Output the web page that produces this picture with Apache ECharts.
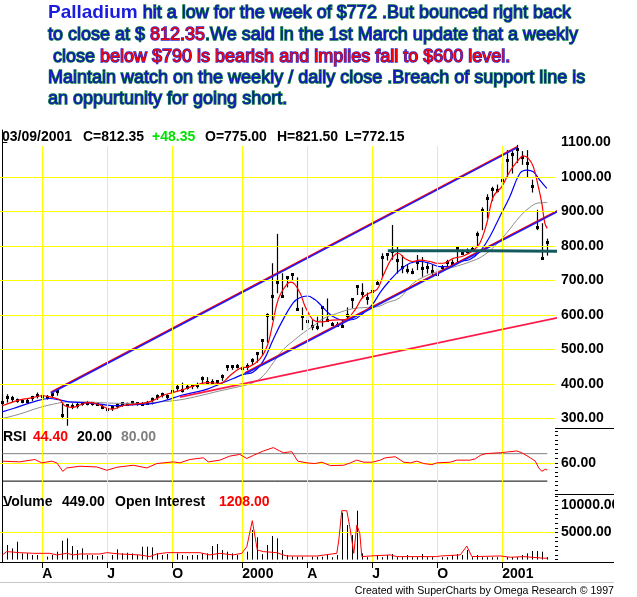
<!DOCTYPE html>
<html>
<head>
<meta charset="utf-8">
<title>Palladium weekly</title>
<script src="https://cdn.jsdelivr.net/npm/echarts@6.0.0/dist/echarts.min.js"></script>
<style>
  html, body { margin: 0; padding: 0; background: #fff; }
  #chart { width: 637px; height: 597px; }
</style>
</head>
<body>
<div id="chart"></div>
<script>
// weekly bars, week 0 = 02/05/1999 ... week 109 = 03/09/2001
var high = [370.5,370.5,365.7,358,356,358,365.7,375.4,370.5,368,375,387,346,341,344,346,348,351,348,346,
  341,337,339,344,348,346,351,348,348,351,361,370,375,370,409,399,404,397,400,404,
  422,420,414,411,428,455,455,458,452,460,475,493,530,605,750,835,721,711,721,709,
  622,600,585,595,622,648,580,580,585,622,648,687,692,665,687,702,779,779,861,798,
  773,745,735,774,768,750,745,735,745,760,760,798,790,793,798,842,912,950,972,978,
  1040,1078,1075,1093,1075,1078,992,905,866,821.5];
var low = [332,346,348,346,344,344,351,358,354,355,361,366,298,279,327,329,337,338,337,337,
  327,317,322,329,334,337,338,337,337,341,341,354,361,356,370,380,375,384,385,387,
  400,400,400,396,409,438,441,445,438,440,455,462,485,520,585,663,653,680,700,618,
  556,561,556,556,566,585,570,566,566,585,619,658,648,630,648,690,711,758,760,720,
  721,720,718,730,711,720,711,711,730,740,740,750,775,778,785,798,846,880,930,955,
  975,1000,1010,1040,1035,1000,955,846,760,772.15];
var close = [348,361,358,353,351,352,361,367,366,363,370,380,311,338,336,339,344,346,344,341,
  334,327,334,338,344,341,348,344,341,346,356,366,370,366,380,390,382,390,397,397,
  418,407,405,409,424,453,451,453,445,452,470,490,527,600,655,695,655,709,719,618,
  598,582,568,564,622,585,573,570,568,600,646,685,665,648,670,692,767,776,785,760,
  738,730,725,755,735,740,728,720,738,755,752,793,780,785,790,836,905,940,965,962,
  992,1050,1068,1080,1058,1040,975,855,764,812.35];
var volume = [2360,2670,2060,3280,1140,1140,840,840,1140,530,840,1450,3460,3890,2490,1750,2060,840,840,650,
  840,1140,840,1870,1140,1260,1140,840,2360,2360,2240,1140,840,1020,2180,1140,840,650,840,840,
  1140,1140,2490,2850,1750,1450,1140,840,840,1450,5400,4100,1000,2670,4320,3900,1750,840,530,530,
  530,650,530,530,530,840,440,840,8600,6340,4500,8960,1140,440,440,840,440,840,1020,440,
  440,840,440,440,1020,440,440,840,440,440,840,1020,840,1750,440,840,440,440,440,440,
  440,440,440,440,840,1140,1570,1570,1450,449];

// moving averages as [week, price]
var redMA = [[0,337],[3.5,354],[6,360],[8,366],[10,361],[11.5,354],[12.5,337],[14,332],[15.5,339],[17,346],
  [19,342],[21,329],[22,327],[24,337],[26,341],[28,344],[30,351],[32,366],[34,375],[36,383],
  [38,393],[41,404],[43.5,402],[45.5,424],[47.5,445],[49.5,451],[51.5,472],[53,511],[54,569],[55.2,646],
  [56.9,689],[57.8,695],[59.5,665],[60.5,627],[62,588],[63.5,580],[66,585],[68.5,587],[70.5,614],[72,650],
  [73.5,664],[75,675],[76.2,715],[77.9,764],[79.2,779],[80.5,764],[82,755],[83.5,759],[85.5,755],[87,750],
  [88.2,750],[90.2,764],[92.2,771],[94.2,787],[95.5,808],[96.9,866],[98.2,943],[99.9,972],[101.5,1016],[103.2,1049],
  [104.2,1061],[105.2,1054],[106.2,1030],[107.2,972],[107.9,924],[108.5,866],[109,851]];
var blueMA = [[0,319],[2.2,329],[6.2,348],[9.5,358],[11.5,354],[13.5,348],[16.2,346],[19.5,341.5],[22.2,337],[25,339],
  [27.5,341],[30.2,344],[33,354],[35.5,366],[38.2,375],[41,385],[43.5,400],[46.2,416],[48.2,428],[50.2,435],
  [52.2,467],[54.2,530],[56.2,588],[58.2,636],[59.5,650],[61,655],[62.5,645],[63.5,632],[65,609],[66.2,595],
  [68.2,585],[70.2,587],[72.2,605],[74,630],[75.7,668],[77.5,700],[79.5,730],[81.5,750],[83.5,755],[85.5,750],
  [87.5,740],[89.5,740],[91.5,755],[93.5,761],[95.5,784],[97.5,827],[99.5,885],[101.5,943],[103.5,1010],[104.9,1020],
  [106.2,1015],[107.5,991],[108.9,967]];
var grayMA = [[0,300],[3.5,313],[7.5,332],[11,344],[13,348],[17,348],[19.5,346],[23.5,344],[27.5,344],[31.5,348],
  [35.5,354],[39.5,366],[43.5,380],[47.5,393],[50.2,404],[52.2,424],[54.2,462],[56.2,500],[58.2,525],[60.2,548],
  [62.2,568],[64,588],[67,605],[70,618],[73,622],[75,624],[77,636],[79.5,650],[82,690],[85,715],
  [88,730],[91,742],[93.5,754],[96,770],[98.5,800],[101,840],[103.5,885],[105.5,912],[107,924],[109,926]];

// trend lines drawn on the chart, [week, price]
var upperChannel = [[9.7,373],[103,1085]];
var lowerChannel = [[48.5,429],[117.5,948]];
var longTrend = [[35.5,362],[126.1,638]];
var supportLine = [[77.1,786],[97,786],[97,783],[126.9,783]];

var rsi = [[0,63.6],[3.5,62.1],[6.5,67.3],[7.9,59.9],[9.9,63.6],[10.9,59.9],[12.1,41.4],[12.9,48.8],[15.5,52.5],[18.9,51],
  [20.9,43.6],[22.9,50.3],[26.2,54.7],[28.9,48.8],[30.9,58.4],[34.2,62.1],[35.5,59.9],[37.5,67.3],[40.2,71],[41.2,62.1],
  [43.5,65.9],[45.5,74.7],[47.5,78.4],[48.9,69.5],[50.2,76.2],[52.2,85.9],[54.2,93.3],[55.5,85.9],[56.2,82.1],[57.9,84.4],
  [59.1,63.6],[60.9,59.9],[62.5,58.4],[63.9,61.4],[65.6,54],[68.3,54.7],[69.6,59.9],[70.9,65.9],[72.3,61.4],[74,61.4],
  [75.6,65.9],[76.6,71],[78.6,73.3],[80.3,61.4],[81.6,59.9],[82.9,63.6],[84.3,58.4],[85.9,56.1],[86.9,59.9],[89.6,61.4],
  [90.9,65.9],[93.6,65.9],[94.6,68.8],[95.6,76.2],[96.6,80],[99.6,82.1],[100.9,83.6],[102.9,85.9],[103.9,82.1],[105.6,71],
  [106.6,63.6],[107.3,48.8],[107.9,41.4],[108.6,46],[109,44.4]];
var rsiLevels = [20, 80];

var openInterest = [[0,855],[0.9,1466],[3.5,1270],[6.2,1150],[9.5,1150],[10.9,855],[12.9,1150],[14.2,855],[15.5,1030],[19.5,1030],
  [20.9,1270],[23.5,1030],[27.5,855],[29.5,550],[30.9,1030],[32.9,1270],[39.5,1270],[41.5,855],[43.5,1150],[46.2,855],
  [47.9,1150],[48.9,2360],[50,7130],[51,1760],[52.2,1466],[54.9,1270],[56.2,855],[56.9,660],[62.9,660],[66.9,1150],
  [67.3,3580],[67.9,8960],[68.9,8960],[69.6,5420],[70.3,1150],[70.9,6340],[71.5,4810],[71.9,550],[73.6,660],[77.6,855],
  [78.9,550],[86.9,550],[87.6,660],[91.6,855],[92.9,2480],[93.9,550],[99.6,660],[101.6,430],[104.3,550],[108.3,250],[109,250]];

var quarterWeeks = [8, 21, 34, 48, 61, 74, 87, 100];
var quarterLabels = ['A', 'J', 'O', '2000', 'A', 'J', 'O', '2001'];
var priceTicks = [300, 400, 500, 600, 700, 800, 900, 1000, 1100];
var priceGridLines = [300, 400, 500, 600, 700, 800, 900, 1000];
var rsiTicks = [60];
var rsiMinorTicks = [0, 10, 20, 30, 40, 50, 60, 70, 80, 90, 100, 110, 120, 130];
var volTicks = [5000, 10000];
var volMinorTicks = [0, 833, 1667, 2500, 3333, 4167, 5000, 5833, 6667, 7500, 8333, 9167, 10000, 10833, 11667];

var lastDate = '03/09/2001';
var lastOpen = 775;
var lastOI = 1208;

var FONT = '"Liberation Sans", Arial, sans-serif';
var n = close.length;

var chart = echarts.init(document.getElementById('chart'), null, { renderer: 'canvas' });

function renderBar(params, api) {
  var i = api.value(0);
  var top = api.coord([i, api.value(1)]);
  var bot = api.coord([i, api.value(2)]);
  var cl = api.coord([i, api.value(3)]);
  var x = Math.round(top[0]) + 0.5;
  return {
    type: 'group',
    children: [
      { type: 'line', shape: { x1: x, y1: top[1], x2: x, y2: bot[1] }, style: { stroke: '#000', lineWidth: 1.2 } },
      { type: 'rect', shape: { x: x - 1.5, y: Math.round(cl[1]) - 1, width: 3, height: 3 }, style: { fill: '#000' } }
    ]
  };
}

function renderVol(params, api) {
  var i = api.value(0);
  var b = api.coord([i, 0]);
  var t = api.coord([i, api.value(1)]);
  var x = Math.round(b[0]) + 0.5;
  return { type: 'line', shape: { x1: x, y1: b[1], x2: x, y2: t[1] }, style: { stroke: '#000', lineWidth: 1 } };
}

function gridLines(key, values) {
  return {
    silent: true, symbol: ['none', 'none'], animation: false,
    label: { show: false }, emphasis: { disabled: true },
    lineStyle: { color: '#ffff00', width: 1, type: 'solid' },
    data: values.map(function (v) { var o = {}; o[key] = v; return o; })
  };
}

function dummy(xi, yi, pt, ml) {
  return { type: 'line', xAxisIndex: xi, yAxisIndex: yi, data: [pt], symbol: 'none',
    lineStyle: { opacity: 0 }, silent: true, z: 1, markLine: ml };
}

function plainLine(xi, yi, data, color, width, extra) {
  var s = { type: 'line', xAxisIndex: xi, yAxisIndex: yi, data: data, symbol: 'none', silent: true,
    lineStyle: { color: color, width: width }, z: 4 };
  for (var k in extra) s[k] = extra[k];
  return s;
}

var labelStyle = { color: '#000', fontFamily: FONT, fontSize: 14, fontWeight: 'bold' };
var xr = { min: -0.46, max: 110.54 };

function hiddenX(g) { return { gridIndex: g, type: 'value', min: xr.min, max: xr.max, show: false }; }

function rightAxis(g, min, max, ticks, len, labels, line) {
  return {
    gridIndex: g, type: 'value', position: 'right', min: min, max: max,
    axisLine: { show: line, lineStyle: { color: '#000', width: 1 } },
    axisTick: { show: true, customValues: ticks, length: len, inside: false, lineStyle: { color: '#000' } },
    axisLabel: labels ? Object.assign({ customValues: labels, margin: 6, formatter: function (v) { return v.toFixed(2); } }, labelStyle) : { show: false },
    splitLine: { show: false }
  };
}

function txt(x, y, s, color, font) {
  return { type: 'text', x: x, y: y, z: 100, silent: true,
    style: { text: s, fill: color || '#000', font: font || ('bold 14px ' + FONT), verticalAlign: 'middle', align: 'left' } };
}

var blueT = { fill: '#1414c4', stroke: '#0c7a3c', lineWidth: 1.4, fontSize: 18, fontFamily: FONT, lineHeight: 22 };
var redT = { fill: '#ff0000', stroke: '#2a2acc', lineWidth: 1.4, fontSize: 18, fontFamily: FONT, lineHeight: 22 };
var palT = { fill: '#1c1ce0', fontSize: 19, fontWeight: 'bold', fontFamily: FONT, lineHeight: 22 };

var titleLines = [
  '{p|Palladium}{b| hit a low for the week of $772 .But bounced right back}',
  '{b|to close at $ }{r|812.35}{b|.We said in the 1st March update that a weekly}',
  '{b| close }{r|below $790 is bearish and implies fall to $600 level.}',
  '{b|Maintain watch on the weekly / daily close .Breach of support line is}',
  '{b|an oppurtunity for going short.}'
];
var titleY = [13, 35.5, 57, 78.5, 99.5];

var graphics = titleLines.map(function (line, k) {
  return { type: 'text', x: 48, y: titleY[k], z: 100, silent: true,
    style: { text: line, verticalAlign: 'middle', rich: { p: palT, b: blueT, r: redT } } };
});

var change = close[n - 1] - close[n - 2];
graphics.push(
  txt(2, 137.5, lastDate),
  txt(83, 137.5, 'C=' + close[n - 1].toFixed(2)),
  txt(152, 137.5, '+' + change.toFixed(2), '#00e000'),
  txt(205, 137.5, 'O=' + lastOpen.toFixed(2)),
  txt(277, 137.5, 'H=' + high[n - 1].toFixed(2)),
  txt(345, 137.5, 'L=' + low[n - 1].toFixed(2)),
  txt(3, 437, 'RSI'),
  txt(33, 437, rsi[rsi.length - 1][1].toFixed(2), '#ff0000'),
  txt(77, 437, rsiLevels[0].toFixed(2)),
  txt(121, 437, rsiLevels[1].toFixed(2), '#808080'),
  txt(3, 502, 'Volume'),
  txt(62, 502, volume[n - 1].toFixed(2)),
  txt(115, 502, 'Open Interest'),
  txt(219, 502, lastOI.toFixed(2), '#ff0000'),
  { type: 'rect', z: 99, silent: true, shape: { x: 614, y: 495, width: 23, height: 66 }, style: { fill: '#fff' } },
  { type: 'line', z: 100, silent: true, shape: { x1: 555, y1: 428.5, x2: 614, y2: 428.5 }, style: { stroke: '#000', lineWidth: 1 } },
  { type: 'line', z: 100, silent: true, shape: { x1: 555, y1: 494.5, x2: 614, y2: 494.5 }, style: { stroke: '#000', lineWidth: 1 } },
  { type: 'line', z: 100, silent: true, shape: { x1: 555, y1: 562.5, x2: 614, y2: 562.5 }, style: { stroke: '#000', lineWidth: 1 } },
  { type: 'line', z: 100, silent: true, shape: { x1: 0, y1: 582.5, x2: 614, y2: 582.5 }, style: { stroke: '#c8c8c8', lineWidth: 1 } },
  { type: 'text', x: 614, y: 591, z: 100, silent: true,
    style: { text: 'Created with SuperCharts by Omega Research \u00a9 1997', fill: '#000', font: '10.6px ' + FONT, align: 'right', verticalAlign: 'middle' } }
);

var option = {
  animation: false,
  backgroundColor: '#fff',
  grid: [
    { left: 0, top: 146, width: 555, height: 416, outerBoundsMode: 'none' },
    { left: 0, top: 130, width: 555, height: 298, outerBoundsMode: 'none' },
    { left: 0, top: 428, width: 555, height: 66, outerBoundsMode: 'none' },
    { left: 0, top: 494, width: 555, height: 68, outerBoundsMode: 'none' }
  ],
  xAxis: [
    {
      gridIndex: 0, type: 'value', min: xr.min, max: xr.max,
      axisLine: { show: true, lineStyle: { color: '#000', width: 1 } },
      axisTick: { show: true, customValues: quarterWeeks, length: 6, lineStyle: { color: '#000' } },
      axisLabel: Object.assign({ customValues: quarterWeeks, align: 'left', margin: 5,
        formatter: function (v) { return quarterLabels[quarterWeeks.indexOf(v)]; } }, labelStyle),
      splitLine: { show: false }
    },
    hiddenX(1), hiddenX(2), hiddenX(3)
  ],
  yAxis: [
    { gridIndex: 0, type: 'value', min: 0, max: 1, show: false },
    rightAxis(1, 272.46, 1136.2, priceTicks, 5, priceTicks, true),
    rightAxis(2, -8.2, 136.2, rsiTicks, 6, rsiTicks, true),
    rightAxis(2, -8.2, 136.2, rsiMinorTicks, 3, null, false),
    rightAxis(3, -440, 12018, volTicks, 6, volTicks, true),
    rightAxis(3, -440, 12018, volMinorTicks, 3, null, false)
  ],
  graphic: graphics,
  series: [
    dummy(0, 0, [0, 0.5], gridLines('xAxis', quarterWeeks)),
    dummy(1, 1, [0, 300], gridLines('yAxis', priceGridLines)),
    dummy(2, 2, [0, 60], gridLines('yAxis', rsiTicks)),
    dummy(3, 4, [0, 0], gridLines('yAxis', volTicks.slice(0, 1))),
    {
      type: 'custom', xAxisIndex: 1, yAxisIndex: 1, z: 3, silent: true,
      renderItem: renderBar,
      encode: { x: 0, y: [1, 2] },
      data: high.map(function (h, i) { return [i, h, low[i], close[i]]; })
    },
    plainLine(1, 1, grayMA, '#8c8c8c', 1, { smooth: 0.4 }),
    plainLine(1, 1, blueMA, '#0000ff', 1.2, { smooth: 0.4 }),
    plainLine(1, 1, redMA, '#ff0000', 1.2, { smooth: 0.4 }),
    plainLine(1, 1, longTrend, '#ff1a48', 1.6, { clip: false }),
    plainLine(1, 1, upperChannel, '#1a1aff', 1.6, { clip: false,
      lineStyle: { color: '#1a1aff', width: 1.6, shadowColor: '#ff0000', shadowOffsetY: -1, shadowBlur: 0 } }),
    plainLine(1, 1, lowerChannel, '#1a1aff', 1.6, { clip: false,
      lineStyle: { color: '#1a1aff', width: 1.6, shadowColor: '#ff0000', shadowOffsetY: -1, shadowBlur: 0 } }),
    plainLine(1, 1, supportLine, '#145a5c', 3, { clip: false, z: 5 }),
    plainLine(2, 2, [[0, rsiLevels[1]], [n - 1, rsiLevels[1]]], '#808080', 1),
    plainLine(2, 2, [[0, rsiLevels[0]], [n - 1, rsiLevels[0]]], '#000', 1),
    plainLine(2, 2, rsi, '#ff0000', 1, { z: 5 }),
    {
      type: 'custom', xAxisIndex: 3, yAxisIndex: 4, z: 3, silent: true,
      renderItem: renderVol,
      encode: { x: 0, y: 1 },
      data: volume.map(function (v, i) { return [i, v]; })
    },
    plainLine(3, 4, openInterest, '#ff0000', 1, { z: 5 })
  ]
};

chart.setOption(option);
</script>
</body>
</html>
